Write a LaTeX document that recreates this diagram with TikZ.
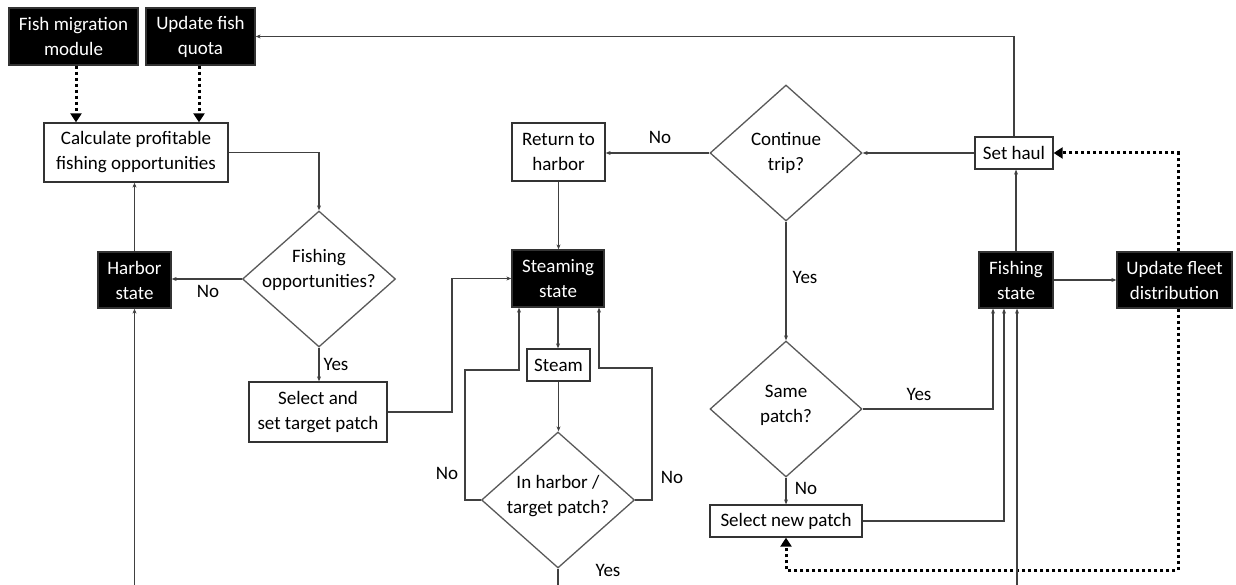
\documentclass[tikz,border=0pt]{standalone}
\usepackage{fontspec}
\setmainfont{Carlito}
\usetikzlibrary{shapes.geometric,arrows.meta}
\begin{document}
\begin{tikzpicture}[x=1pt,y=-1pt,
 font=\fontsize{19}{25}\selectfont,
 box/.style={draw=black!80, line width=1.3pt, fill=white, text=black, inner sep=0pt, align=center},
 blk/.style={box, fill=black, text=white},
 dia/.style={shape=diamond, draw=black!65, line width=1.3pt, inner sep=0pt, minimum width=153pt, minimum height=136pt},
 conn/.style={draw=black!75, line width=1.3pt, -{Stealth[length=5pt,width=4pt]}},
 link/.style={draw=black!75, line width=1.3pt},
 dotarr/.style={draw=black, line width=3pt, dash pattern=on 3pt off 3pt, -{Triangle[length=9pt,width=11pt]}},
 lbl/.style={text=black, inner sep=0pt, align=center}]
\useasboundingbox (0,0) rectangle (1236,585);

% nodes
\node[blk, minimum width=129pt, minimum height=57pt] (mig) at (73.5,36.5) {Fish migration\\module};
\node[blk, minimum width=109pt, minimum height=57pt] (quota) at (200.5,36.5) {Update fish\\quota};
\node[box, minimum width=184pt, minimum height=59pt] (calc) at (136,152.5) {Calculate profitable\\fishing opportunities};
\node[blk, minimum width=73pt, minimum height=56pt] (harbor) at (134.5,280) {Harbor\\state};
\node[dia, label={[lbl,yshift=9pt]center:{Fishing\\opportunities?}}] (fopp) at (319,279) {};
\node[box, minimum width=138pt, minimum height=60pt] (sel) at (318,412) {Select and\\set target patch};
\node[box, minimum width=93pt, minimum height=58pt] (ret) at (558.5,152) {Return to\\harbor};
\node[blk, minimum width=92pt, minimum height=57pt] (steaming) at (558,278.5) {Steaming\\state};
\node[box, minimum width=63pt, minimum height=32pt] (steam) at (558.5,365) {Steam};
\node[dia, label={[lbl,yshift=4pt]center:{In harbor /\\target patch?}}] (inh) at (558,500) {};
\node[dia, minimum width=152pt, label={[lbl]center:{Continue\\trip?}}] (cont) at (786,153) {};
\node[dia, minimum width=152pt, label={[lbl,yshift=4pt]center:{Same\\patch?}}] (same) at (786,409) {};
\node[box, minimum width=152pt, minimum height=32pt] (selnew) at (786,521) {Select new patch};
\node[box, minimum width=78pt, minimum height=32pt] (haul) at (1014,153) {Set haul};
\node[blk, minimum width=74pt, minimum height=56pt] (fish) at (1016,280) {Fishing\\state};
\node[blk, minimum width=115pt, minimum height=56pt] (fleet) at (1174.5,280) {Update fleet\\distribution};

% helper coordinates
\coordinate (xa) at (76,0);
\coordinate (xb) at (199,0);
\coordinate (hb) at (134.5,585);
\coordinate (xs) at (452,0);
\coordinate (lx) at (465,370);
\coordinate (lx2) at (519,370);
\coordinate (rx) at (652,368);
\coordinate (rx2) at (599,368);
\coordinate (ib) at (558,585);
\coordinate (fx) at (1178,0);
\coordinate (fy) at (0,570);
\coordinate (f1) at (993,0);
\coordinate (f2) at (1004,0);
\coordinate (fb) at (1017,585);

% dotted inputs
\draw[dotarr] (mig.south -| xa) -- (calc.north -| xa);
\draw[dotarr] (quota.south -| xb) -- (calc.north -| xb);
\draw[dotarr] (fleet.north -| fx) |- (haul.east);
\draw[dotarr] (fleet.south -| fx) -- (fx |- fy) -| (selnew.south);

% connectors
\draw[conn] (calc.east) -| (fopp.north);
\draw[conn] (fopp.west) -- (fopp.west -| harbor.east);
\draw[conn] (harbor.north) -- (harbor.north |- calc.south);
\draw[conn] (hb) -- (harbor.south);
\draw[conn] (fopp.south) -- (fopp.south |- sel.north);
\draw[conn] (sel.east) -- (sel.east -| xs) -- (xs |- steaming.west) -- (steaming.west);
\draw[conn] (cont.west) -- (cont.west -| ret.east);
\draw[conn] (ret.south) -- (ret.south |- steaming.north);
\draw[conn] (steaming.south) -- (steaming.south |- steam.north);
\draw[conn] (steam.south) -- (steam.south |- inh.north);
\draw[conn] (inh.west) -| (lx) -- (lx2) -- (lx2 |- steaming.south);
\draw[conn] (inh.east) -| (rx) -- (rx2) -- (rx2 |- steaming.south);
\draw[link] (inh.south) -- (ib);
\draw[conn] (haul.west) -- (haul.west -| cont.east);
\draw[conn] (haul.north) |- (quota.east);
\draw[conn] (fish.north) -- (fish.north |- haul.south);
\draw[conn] (fish.east) -- (fish.east -| fleet.west);
\draw[conn] (cont.south) -- (same.north);
\draw[conn] (same.south) -- (selnew.north);
\draw[conn] (same.east) -| (f1 |- fish.south);
\draw[conn] (selnew.east) -| (f2 |- fish.south);
\draw[conn] (fb) -- (fb |- fish.south);

% edge labels
\node[lbl] (l1) at (208,291) {No};
\node[lbl] (l2) at (336,364) {Yes};
\node[lbl] (l3) at (660,137) {No};
\node[lbl] (l4) at (805,277) {Yes};
\node[lbl] (l5) at (919,394) {Yes};
\node[lbl] (l6) at (806,488) {No};
\node[lbl] (l7) at (447,473) {No};
\node[lbl] (l8) at (672,477) {No};
\node[lbl] (l9) at (608,570) {Yes};
\end{tikzpicture}
\end{document}
